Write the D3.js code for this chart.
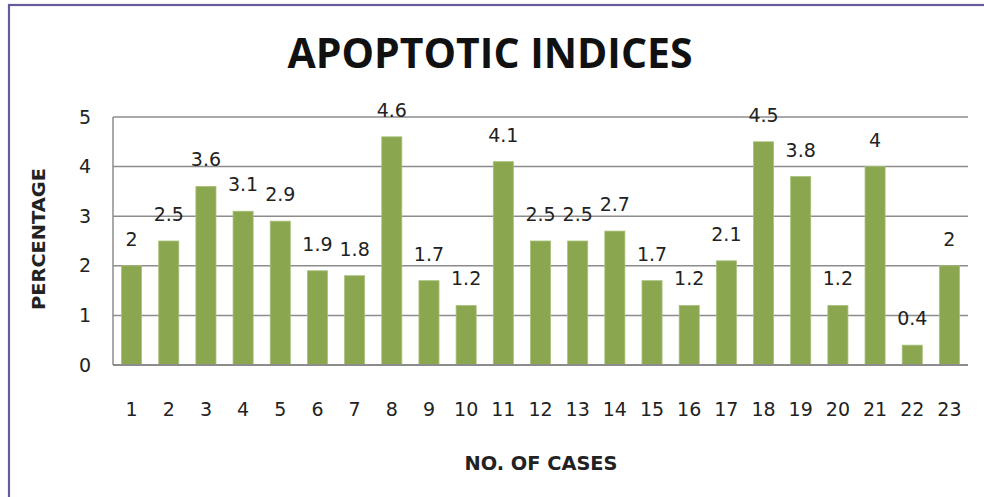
<!DOCTYPE html>
<html><head><meta charset="utf-8">
<script src="https://cdn.jsdelivr.net/npm/d3@7"></script>
<style>html,body{margin:0;padding:0;background:#fff;}svg{display:block;}</style>
</head><body>
<svg id="chart" width="984" height="497"></svg>
<script>
const categories = ["1","2","3","4","5","6","7","8","9","10","11","12","13","14","15","16","17","18","19","20","21","22","23"];
const values = [2,2.5,3.6,3.1,2.9,1.9,1.8,4.6,1.7,1.2,4.1,2.5,2.5,2.7,1.7,1.2,2.1,4.5,3.8,1.2,4,0.4,2];
const yTicks = [0,1,2,3,4,5];
const title = "APOPTOTIC INDICES";
const xTitle = "NO. OF CASES";
const yTitle = "PERCENTAGE";

const svg = d3.select("#chart");
// outer frame
svg.append("rect").attr("x",9).attr("y",5).attr("width",990).attr("height",500)
  .attr("fill","#fff").attr("stroke","#6a5a9c").attr("stroke-width",2.2);

const L=113, R=968, T=117, B=365;
const x = d3.scaleBand().domain(categories).range([L,R]).paddingInner(0.46).paddingOuter(0.23);
const y = d3.scaleLinear().domain([0,5]).range([B,T]);

// gridlines
svg.append("g").selectAll("line").data(yTicks.filter(d=>d>0)).join("line")
  .attr("x1",L).attr("x2",R).attr("y1",d=>y(d)).attr("y2",d=>y(d))
  .attr("stroke","#8c8c8c").attr("stroke-width",1.5);

// bars
svg.append("g").selectAll("rect").data(values).join("rect")
  .attr("x",(d,i)=>x(categories[i])).attr("width",x.bandwidth())
  .attr("y",d=>y(d)).attr("height",d=>B-y(d))
  .attr("fill","#8aa64e").attr("stroke","#a9c07a").attr("stroke-width",0.8);

// axes lines
svg.append("line").attr("x1",L).attr("x2",L).attr("y1",T).attr("y2",B).attr("stroke","#8c8c8c").attr("stroke-width",1.5);
svg.append("line").attr("x1",L).attr("x2",R).attr("y1",B).attr("y2",B).attr("stroke","#8c8c8c").attr("stroke-width",2);

// y axis ticks
const yAxis = d3.axisLeft(y).tickValues(yTicks).tickSize(0).tickPadding(22).tickFormat(d3.format("d"));
const ga = svg.append("g").attr("transform",`translate(${L},0)`).call(yAxis);
ga.select(".domain").remove();
ga.selectAll("text").attr("font-family","DejaVu Sans").attr("font-size",19).attr("fill","#222");

// x axis ticks
const xAxis = d3.axisBottom(x).tickSize(0).tickPadding(38);
const gx = svg.append("g").attr("transform",`translate(0,${B})`).call(xAxis);
gx.select(".domain").remove();
gx.selectAll("text").attr("font-family","DejaVu Sans").attr("font-size",19).attr("fill","#222");

// value labels
svg.append("g").selectAll("text").data(values).join("text")
  .attr("x",(d,i)=>x(categories[i])+x.bandwidth()/2)
  .attr("y",d=>y(d)-20)
  .attr("text-anchor","middle")
  .attr("font-family","DejaVu Sans").attr("font-size",19).attr("fill","#222")
  .text(d=>d);

// titles
svg.append("text").attr("x",490).attr("y",68).attr("text-anchor","middle")
  .attr("font-family","Open Sans").attr("font-weight","bold").attr("font-size",41)
  .attr("fill","#111").attr("textLength",405).attr("lengthAdjust","spacingAndGlyphs").text(title);
svg.append("text").attr("x",541).attr("y",470).attr("text-anchor","middle")
  .attr("font-family","DejaVu Sans").attr("font-weight","bold").attr("font-size",19.5)
  .attr("fill","#222").attr("textLength",153).attr("lengthAdjust","spacingAndGlyphs").text(xTitle);
svg.append("text").attr("transform","translate(45,239) rotate(-90)").attr("text-anchor","middle")
  .attr("font-family","DejaVu Sans").attr("font-weight","bold").attr("font-size",18)
  .attr("fill","#222").attr("textLength",142).attr("lengthAdjust","spacingAndGlyphs").text(yTitle);
</script>
</body></html>
